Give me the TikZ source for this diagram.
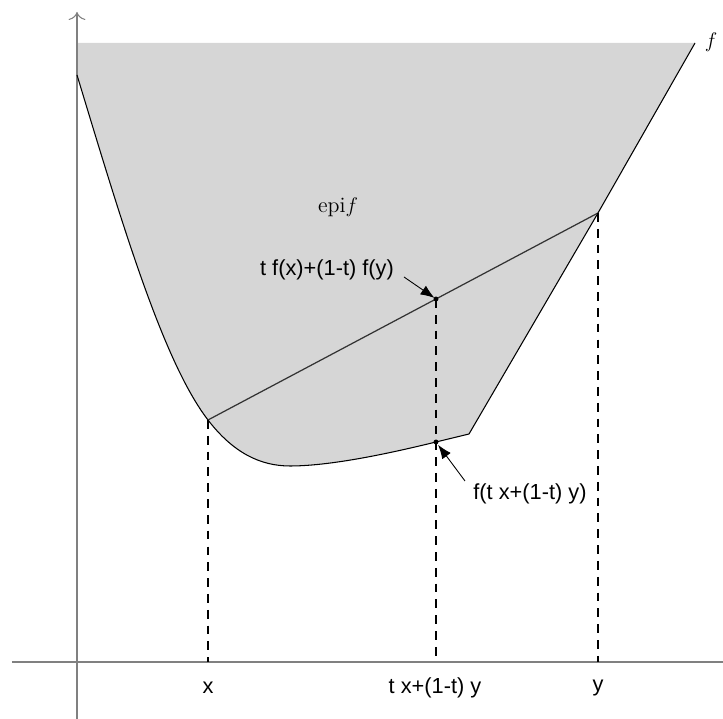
\documentclass[tikz,border=0pt]{standalone}
\usepackage{fontspec}
\setsansfont{Liberation Sans}
\usetikzlibrary{arrows.meta}

\begin{document}
\begin{tikzpicture}[line width=0.6pt,>={Latex[length=2.8mm,width=2.1mm]},
  lbl/.style={font=\sffamily\fontsize{12.4}{14}\selectfont},
  guia/.style={line width=0.7pt,dash pattern=on 5pt off 4pt}]
  \useasboundingbox (-1.54,-1.14) rectangle (12.92,13.24);
  % puntos de la grafica
  \coordinate (A) at (0,11.74);
  \coordinate (X) at (2.62,4.84);
  \coordinate (N) at (4.26,3.92);
  \coordinate (M) at (7.18,4.4);
  \coordinate (K) at (7.84,4.56);
  \coordinate (Y) at (10.42,8.98);
  \coordinate (B) at (12.36,12.38);
  \coordinate (C) at (7.18,7.26);
  % epigrafo sombreado
  \fill[black!16] (0,12.38) -- (A) .. controls (0.9,8.77) and (1.72,6.01) .. (X)
        .. controls (3.12,4.19) and (3.66,3.92) .. (N)
        .. controls (5.16,3.92) and (6.48,4.23) .. (M) -- (K) -- (Y) -- (B) -- cycle;
  % ejes
  \draw[gray] (-1.3,0) -- (12.92,0);
  \draw[gray,-{To[length=1.6mm]}] (0,-1.14) -- (0,13.0);
  % grafica de f y cuerda
  \draw (A) .. controls (0.9,8.77) and (1.72,6.01) .. (X)
        .. controls (3.12,4.19) and (3.66,3.92) .. (N)
        .. controls (5.16,3.92) and (6.48,4.23) .. (M) -- (K) -- (Y) -- (B);
  \draw[black!80,line width=0.7pt] (X) -- (Y);
  % proyecciones
  \coordinate (xa) at (2.62,0);
  \coordinate (ma) at (7.18,0);
  \coordinate (ya) at (10.42,0);
  \draw[guia] (X) -- (xa);
  \draw[guia] (C) -- (ma);
  \draw[guia] (Y) -- (ya);
  \fill (C) circle(1.4pt); \fill (M) circle(1.4pt);
  % etiquetas
  \node[font=\fontsize{12.5}{14}\selectfont] (epi) at (5.22,9.1) {$\mathrm{epi}f$};
  \node[font=\fontsize{12.5}{14}\selectfont] (lf) at (12.68,12.4) {$f$};
  \node[lbl] (lc) at (5.0,7.84) {t f(x)+(1-t) f(y)};
  \node[lbl] (lm) at (9.06,3.36) {f(t x+(1-t) y)};
  \node[lbl] (lx) at (2.62,-0.52) {x};
  \node[lbl] (lt) at (7.16,-0.52) {t x+(1-t) y};
  \node[lbl] (ly) at (10.42,-0.52) {y};
  % flechas
  \coordinate (tc) at (6.54,7.7);
  \coordinate (tm) at (7.76,3.62);
  \draw[->,line width=0.5pt,shorten >=1pt] (tc) -- (C);
  \draw[->,line width=0.5pt,shorten >=2pt] (tm) -- (M);
\end{tikzpicture}
\end{document}
